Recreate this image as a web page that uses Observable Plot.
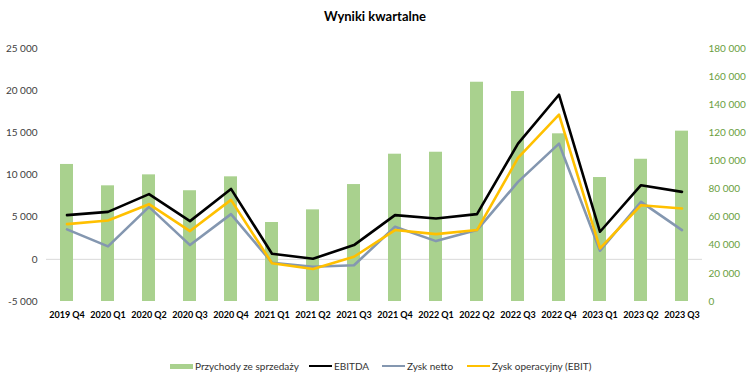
<!DOCTYPE html>
<html>
<head>
<meta charset="utf-8">
<script src="https://cdn.jsdelivr.net/npm/d3@7"></script>
<script src="https://cdn.jsdelivr.net/npm/@observablehq/plot@0.6"></script>
<style>
  html, body { margin: 0; padding: 0; background: #fff; }
  body { width: 750px; height: 381px; position: relative; overflow: hidden; font-family: Lato, "Open Sans", sans-serif; }
  #title { position: absolute; left: 0; top: 8px; width: 750px; text-align: center; font-weight: bold; font-size: 13px; color: #000; }
  #chart { position: absolute; left: 0; top: 35px; }
  #legend { position: absolute; left: 0; top: 358px; width: 750px; height: 16px; font-size: 10px; color: #333; }
  .li { position: absolute; top: 0; display: flex; align-items: center; height: 16px; white-space: nowrap; }
  .sw { display: inline-block; width: 23px; margin-right: 2px; }
</style>
</head>
<body>
<div id="title">Wyniki kwartalne</div>
<div id="chart"></div>
<div id="legend"></div>
<script>
const quarters = ["2019 Q4","2020 Q1","2020 Q2","2020 Q3","2020 Q4","2021 Q1","2021 Q2","2021 Q3","2021 Q4","2022 Q1","2022 Q2","2022 Q3","2022 Q4","2023 Q1","2023 Q2","2023 Q3"];
const revenue = [97500, 82300, 90100, 78800, 88700, 56200, 65200, 83200, 104800, 106200, 156000, 149400, 119300, 88200, 101200, 121200];
const ebitda = [5240, 5630, 7730, 4530, 8350, 660, 70, 1690, 5240, 4850, 5360, 13720, 19520, 3270, 8790, 8000];
const ebit = [4180, 4610, 6540, 3350, 7050, -470, -1150, 310, 3470, 2990, 3470, 12020, 17150, 1300, 6420, 6030];
const netProfit = [3550, 1540, 6220, 1690, 5360, -400, -875, -710, 3860, 2160, 3470, 9180, 13720, 1020, 6810, 3470];
const leftTicks = [-5000, 0, 5000, 10000, 15000, 20000, 25000];
const rightTicks = [0, 20000, 40000, 60000, 80000, 100000, 120000, 140000, 160000, 180000];
const seriesNames = ["Przychody ze sprzedaży", "EBITDA", "Zysk netto", "Zysk operacyjny (EBIT)"];
const seriesColors = ["#A9D18E", "#000000", "#8497B0", "#FFC000"];

// right axis (revenue) maps onto left axis: left = right/6 - 5000
const toLeft = v => v / 6 - 5000;
const toRight = v => Math.round((v + 5000) * 6);

const locale = d3.formatLocale({decimal: ",", thousands: " ", grouping: [3], currency: ["", ""], minus: "-"});
const fmt = locale.format(",.0f");

const bars = quarters.map((q, i) => ({q, y1: -5000, y2: toLeft(revenue[i])}));
const lines = [];
[[ebitda, seriesNames[1]], [netProfit, seriesNames[2]], [ebit, seriesNames[3]]].forEach(([arr, name]) => {
  arr.forEach((v, i) => lines.push({q: quarters[i], v, s: name}));
});

const chart = Plot.plot({
  width: 750,
  height: 300,
  marginTop: 13,
  marginBottom: 34,
  marginLeft: 46,
  marginRight: 48,
  style: {fontFamily: "Lato, 'Open Sans', sans-serif", background: "#fff"},
  x: {domain: quarters, paddingInner: 0.69, paddingOuter: 0.345, axis: null},
  y: {domain: [-5000, 25000], axis: null},
  color: {domain: seriesNames, range: seriesColors},
  marks: [
    Plot.ruleY([0], {stroke: "#D9D9D9", strokeWidth: 1}),
    Plot.barY(bars, {x: "q", y1: "y1", y2: "y2", fill: seriesColors[0]}),
    Plot.line(lines.filter(d => d.s === seriesNames[2]), {x: "q", y: "v", stroke: seriesColors[2], strokeWidth: 2.6}),
    Plot.line(lines.filter(d => d.s === seriesNames[3]), {x: "q", y: "v", stroke: seriesColors[3], strokeWidth: 2.6}),
    Plot.line(lines.filter(d => d.s === seriesNames[1]), {x: "q", y: "v", stroke: seriesColors[1], strokeWidth: 2.6}),
    Plot.axisX({domain: quarters, tickSize: 0, tickPadding: 10, fontSize: 9, fontWeight: "bold", fill: "#000", label: null}),
    Plot.axisY({anchor: "left", ticks: leftTicks, tickFormat: fmt, tickSize: 0, tickPadding: 9, fontSize: 10, fill: "#404040", label: null}),
    Plot.axisY({anchor: "right", ticks: rightTicks.map(toLeft), tickFormat: d => fmt(toRight(d)), tickSize: 0, tickPadding: 6, fontSize: 10, fill: "#6A9E3E", label: null})
  ]
});
document.getElementById("chart").appendChild(chart);

// legend
const legend = document.getElementById("legend");
const lefts = [170, 309, 382, 467];
seriesNames.forEach((name, i) => {
  const item = document.createElement("div");
  item.className = "li";
  item.style.left = lefts[i] + "px";
  const sw = document.createElement("span");
  sw.className = "sw";
  sw.style.height = i === 0 ? "5px" : "2.6px";
  sw.style.background = seriesColors[i];
  item.appendChild(sw);
  const t = document.createElement("span");
  t.textContent = name;
  item.appendChild(t);
  legend.appendChild(item);
});
</script>
</body>
</html>
